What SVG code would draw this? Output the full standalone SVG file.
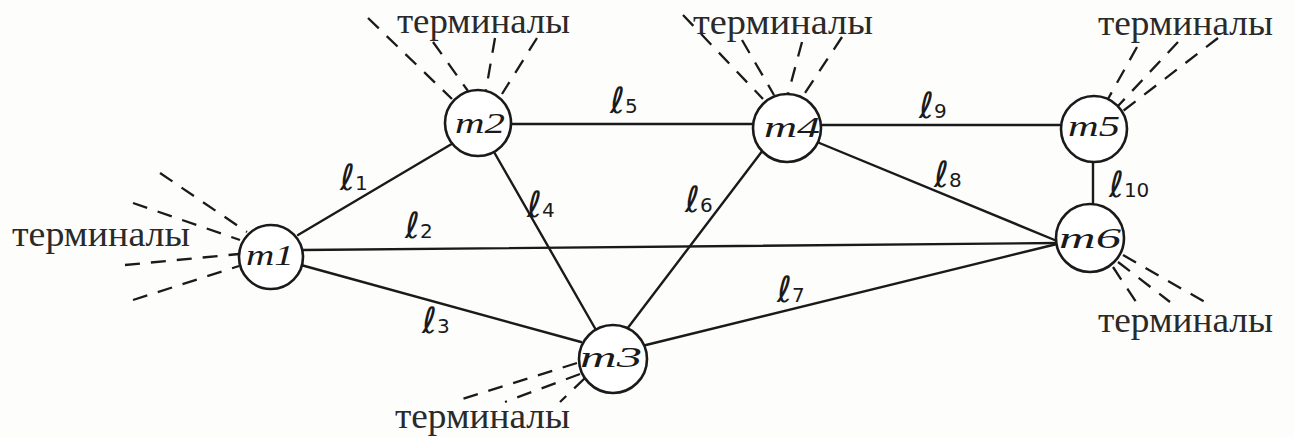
<svg xmlns="http://www.w3.org/2000/svg" width="1294" height="437" viewBox="0 0 1294 437">
<style>
.bg{fill:#fdfdfc}
.ln{stroke:#1a1a1a;stroke-width:2.4;fill:none;stroke-linecap:round}
.ds{stroke:#1a1a1a;stroke-width:2.3;fill:none;stroke-dasharray:15 11}
.nd{fill:#ffffff;stroke:#1a1a1a;stroke-width:2.6}
.nt{font-family:"Liberation Serif",serif;font-style:italic;font-size:30px;fill:#1a1a1a;text-anchor:middle}
.tm{font-family:"Liberation Serif",serif;font-size:36px;fill:#2a2a2a}
.lb{font-family:"DejaVu Sans",sans-serif;font-size:36px;fill:#1a1a1a}
.sb{font-size:20px}
</style>
<rect class="bg" x="0" y="0" width="1294" height="437"/>
<g id="connectors">
<line class="ln" x1="298" y1="235" x2="455" y2="142"/>
<line class="ln" x1="303" y1="250" x2="1057" y2="243"/>
<line class="ln" x1="301" y1="265" x2="581" y2="342"/>
<line class="ln" x1="494" y1="152" x2="596" y2="330"/>
<line class="ln" x1="511" y1="124" x2="753" y2="124"/>
<line class="ln" x1="627" y1="329" x2="763" y2="150"/>
<line class="ln" x1="646" y1="345" x2="1057" y2="244"/>
<line class="ln" x1="817" y1="142" x2="1057" y2="241"/>
<line class="ln" x1="821" y1="125" x2="1061" y2="125"/>
<line class="ln" x1="1093" y1="161" x2="1093" y2="205"/>
</g>
<g id="terminals">
<line class="ds" x1="160" y1="173" x2="247" y2="232"/>
<line class="ds" x1="133" y1="203" x2="240" y2="240"/>
<line class="ds" x1="125" y1="265" x2="239" y2="254"/>
<line class="ds" x1="133" y1="300" x2="239" y2="266"/>
<line class="ds" x1="368" y1="18" x2="452" y2="99"/>
<line class="ds" x1="433" y1="42" x2="468" y2="91"/>
<line class="ds" x1="495" y1="38" x2="486" y2="90"/>
<line class="ds" x1="537" y1="38" x2="502" y2="94"/>
<line class="ds" x1="683" y1="15" x2="763" y2="99"/>
<line class="ds" x1="742" y1="40" x2="774" y2="95"/>
<line class="ds" x1="802" y1="42" x2="788" y2="94"/>
<line class="ds" x1="842" y1="37" x2="803" y2="96"/>
<line class="ds" x1="1137" y1="47" x2="1108" y2="99"/>
<line class="ds" x1="1178" y1="42" x2="1118" y2="106"/>
<line class="ds" x1="1218" y1="38" x2="1123" y2="111"/>
<line class="ds" x1="1113" y1="267" x2="1140" y2="308"/>
<line class="ds" x1="1118" y1="262" x2="1170" y2="302"/>
<line class="ds" x1="1123" y1="255" x2="1210" y2="305"/>
<line class="ds" x1="577" y1="363" x2="453" y2="402"/>
<line class="ds" x1="580" y1="374" x2="505" y2="402"/>
<line class="ds" x1="585" y1="378" x2="560" y2="402"/>
</g>
<g id="m1"><circle class="nd" cx="271" cy="257" r="32"/><text class="nt" x="270" y="265" textLength="48" lengthAdjust="spacingAndGlyphs">m1</text></g>
<g id="m2"><circle class="nd" cx="478" cy="123" r="33"/><text class="nt" x="480" y="133" textLength="50" lengthAdjust="spacingAndGlyphs">m2</text></g>
<g id="m3"><circle class="nd" cx="613" cy="359" r="34"/><text class="nt" x="611" y="367" textLength="62" lengthAdjust="spacingAndGlyphs">m3</text></g>
<g id="m4"><circle class="nd" cx="787" cy="128" r="34"/><text class="nt" x="792" y="137" textLength="56" lengthAdjust="spacingAndGlyphs">m4</text></g>
<g id="m5"><circle class="nd" cx="1094" cy="129" r="33"/><text class="nt" x="1094" y="136" textLength="52" lengthAdjust="spacingAndGlyphs">m5</text></g>
<g id="m6"><circle class="nd" cx="1090" cy="238" r="34"/><text class="nt" x="1090" y="248" textLength="62" lengthAdjust="spacingAndGlyphs">m6</text></g>
<g id="link-labels">
<text class="lb" x="340" y="190">ℓ<tspan class="sb">1</tspan></text>
<text class="lb" x="405" y="238">ℓ<tspan class="sb">2</tspan></text>
<text class="lb" x="422" y="333">ℓ<tspan class="sb">3</tspan></text>
<text class="lb" x="527" y="217">ℓ<tspan class="sb">4</tspan></text>
<text class="lb" x="610" y="113">ℓ<tspan class="sb">5</tspan></text>
<text class="lb" x="685" y="212">ℓ<tspan class="sb">6</tspan></text>
<text class="lb" x="777" y="302">ℓ<tspan class="sb">7</tspan></text>
<text class="lb" x="934" y="187">ℓ<tspan class="sb">8</tspan></text>
<text class="lb" x="919" y="118">ℓ<tspan class="sb">9</tspan></text>
<text class="lb" x="1109" y="197">ℓ<tspan class="sb">10</tspan></text>
</g>
<g id="terminal-labels">
<text class="tm" x="12" y="246" textLength="178" lengthAdjust="spacingAndGlyphs">терминалы</text>
<text class="tm" x="397" y="33" textLength="173" lengthAdjust="spacingAndGlyphs">терминалы</text>
<text class="tm" x="693" y="34" textLength="180" lengthAdjust="spacingAndGlyphs">терминалы</text>
<text class="tm" x="1098" y="35" textLength="175" lengthAdjust="spacingAndGlyphs">терминалы</text>
<text class="tm" x="1098" y="332" textLength="175" lengthAdjust="spacingAndGlyphs">терминалы</text>
<text class="tm" x="395" y="428" textLength="175" lengthAdjust="spacingAndGlyphs">терминалы</text>
</g>
</svg>
